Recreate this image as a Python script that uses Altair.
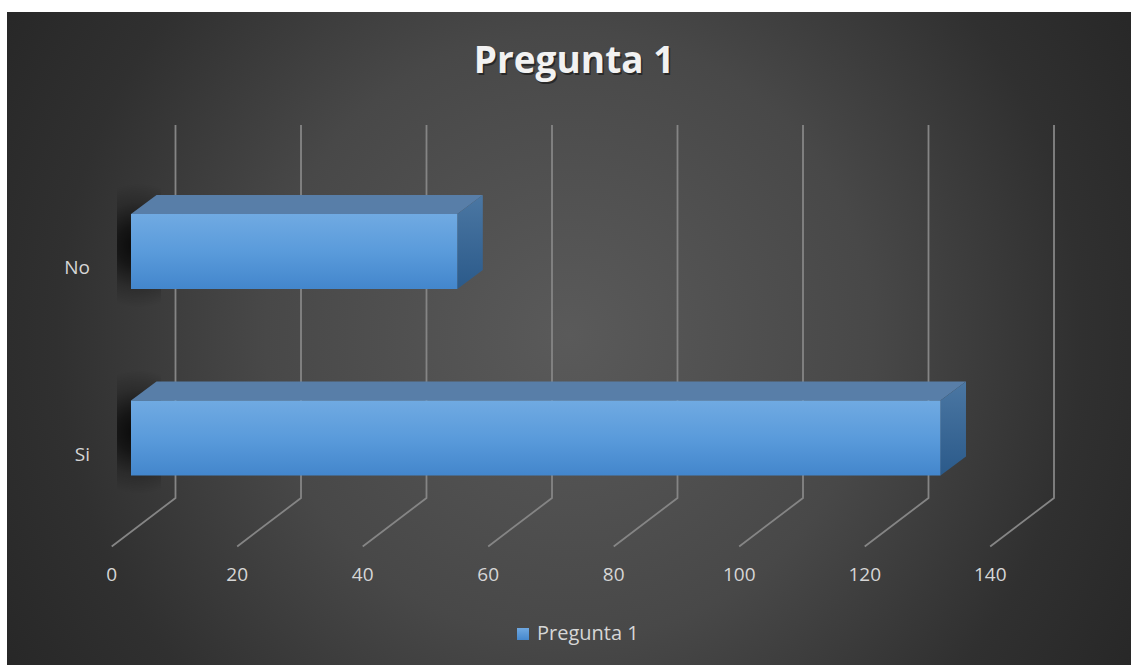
import altair as alt
import pandas as pd

# ---- data -------------------------------------------------------------
categories = ["Si", "No"]
values = [129, 52]
tick_values = [0, 20, 40, 60, 80, 100, 120, 140]
series_name = "Pregunta 1"
title_text = "Pregunta 1"

# ---- layout constants (plot area = dark panel) ------------------------
W, H = 1124, 653
PX = 6.275     # pixels per value unit along x
PY = 186.5     # pixels between category rows
X0 = 124       # pixel column of value 0 on the bar front plane
Y0 = 426       # pixel row of the first category centre

def ux(px):    # horizontal pixel offset -> value units
    return px / PX

def uy(py):    # local pixel row -> row units (row axis points up)
    return (Y0 - py) / PY

xs = alt.Scale(domain=[-X0 / PX, (W - X0) / PX], nice=False, zero=False)
ys = alt.Scale(domain=[uy(H), uy(0)], nice=False, zero=False)

HALF = 37.5 / PY          # half thickness of a bar
DEPTH_X = ux(25.5)        # bar depth, horizontal
DEPTH_Y = 19 / PY         # bar depth, vertical (upwards)

rows = list(range(len(categories)))

bars = pd.DataFrame({
    "cat": categories,
    "value": values,
    "y1": [r - HALF for r in rows],
    "y2": [r + HALF for r in rows],
    "x1": [0.0] * len(rows),
})

top_face = pd.DataFrame(
    [dict(cat=c, y=r + HALF, xa=0.0, xb=v) for c, v, r in zip(categories, values, rows)]
    + [dict(cat=c, y=r + HALF + DEPTH_Y, xa=DEPTH_X, xb=v + DEPTH_X)
       for c, v, r in zip(categories, values, rows)]
)

side_face = pd.DataFrame(
    [dict(cat=c, x=v, ya=r - HALF, yb=r + HALF) for c, v, r in zip(categories, values, rows)]
    + [dict(cat=c, x=v + DEPTH_X, ya=r - HALF + DEPTH_Y, yb=r + HALF + DEPTH_Y)
       for c, v, r in zip(categories, values, rows)]
)

# soft shadow cast behind the left end of each bar
shadows = pd.DataFrame({
    "cat": categories,
    "xa": [ux(-14)] * len(rows),
    "xb": [ux(30)] * len(rows),
    "ya": [r - 56 / PY for r in rows],
    "yb": [r + 68 / PY for r in rows],
})

# gridlines: floor diagonal then back-wall vertical
BACK = ux(44.5)
FRONT = ux(-19.3)
grid_rows = []
for t in tick_values:
    grid_rows += [
        dict(tick=t, ord=0, x=t + FRONT, y=uy(534.5)),
        dict(tick=t, ord=1, x=t + BACK, y=uy(486)),
        dict(tick=t, ord=2, x=t + BACK, y=uy(113)),
    ]
grid = pd.DataFrame(grid_rows)

tick_labels = pd.DataFrame({
    "x": [t + FRONT for t in tick_values],
    "y": [uy(563)] * len(tick_values),
    "label": [str(t) for t in tick_values],
})

cat_labels = pd.DataFrame({
    "x": [ux(-41)] * len(rows),
    "y": [r - 16.5 / PY for r in rows],
    "label": categories,
})

one = pd.DataFrame({"k": [0]})

# ---- styles -----------------------------------------------------------
bg_fill = alt.RadialGradient(
    gradient="radial", x1=0.5, y1=0.5, x2=0.5, y2=0.5, r1=0, r2=0.6,
    stops=[
        alt.GradientStop(offset=0, color="#5a5a5a"),
        alt.GradientStop(offset=0.45, color="#484848"),
        alt.GradientStop(offset=0.76, color="#303030"),
        alt.GradientStop(offset=1, color="#262626"),
    ],
)
front_fill = alt.LinearGradient(
    gradient="linear", x1=0, y1=0, x2=0, y2=1,
    stops=[
        alt.GradientStop(offset=0, color="#70aae2"),
        alt.GradientStop(offset=0.5, color="#5a9bdb"),
        alt.GradientStop(offset=1, color="#4386cc"),
    ],
)
side_fill = alt.LinearGradient(
    gradient="linear", x1=0, y1=0, x2=0, y2=1,
    stops=[
        alt.GradientStop(offset=0, color="#4b77a3"),
        alt.GradientStop(offset=1, color="#2b5a8a"),
    ],
)
shadow_fill = alt.RadialGradient(
    gradient="radial", x1=0.5, y1=0.5, x2=0.5, y2=0.5, r1=0, r2=0.5,
    stops=[
        alt.GradientStop(offset=0, color="rgba(0,0,0,0.85)"),
        alt.GradientStop(offset=0.35, color="rgba(0,0,0,0.6)"),
        alt.GradientStop(offset=0.7, color="rgba(0,0,0,0.2)"),
        alt.GradientStop(offset=1, color="rgba(0,0,0,0)"),
    ],
)
legend_fill = alt.LinearGradient(
    gradient="linear", x1=0, y1=0, x2=0, y2=1,
    stops=[
        alt.GradientStop(offset=0, color="#6fa8e0"),
        alt.GradientStop(offset=1, color="#4588cd"),
    ],
)

# ---- layers -----------------------------------------------------------
background = alt.Chart(one).mark_rect(color=bg_fill, clip=True).encode(
    x=alt.value(0), x2=alt.value(W),
    y=alt.value(323 - W / 2), y2=alt.value(323 + W / 2),
)

gridlines = alt.Chart(grid).mark_line(color="#858585", strokeWidth=1.8).encode(
    x=alt.X("x:Q", scale=xs, axis=None),
    y=alt.Y("y:Q", scale=ys, axis=None),
    detail="tick:N",
    order="ord:Q",
)

shadow = alt.Chart(shadows).mark_rect(color=shadow_fill).encode(
    x=alt.X("xa:Q", scale=xs, axis=None), x2="xb",
    y=alt.Y("ya:Q", scale=ys, axis=None), y2="yb",
)

top = alt.Chart(top_face).mark_area(orient="horizontal", color="#587ea8").encode(
    y=alt.Y("y:Q", scale=ys, axis=None),
    x=alt.X("xa:Q", scale=xs, axis=None), x2="xb",
    detail="cat:N",
)

side = alt.Chart(side_face).mark_area(orient="vertical", color=side_fill).encode(
    x=alt.X("x:Q", scale=xs, axis=None),
    y=alt.Y("ya:Q", scale=ys, axis=None), y2="yb",
    detail="cat:N",
)

front = alt.Chart(bars).mark_rect(color=front_fill).encode(
    x=alt.X("x1:Q", scale=xs, axis=None), x2="value",
    y=alt.Y("y1:Q", scale=ys, axis=None), y2="y2",
)

ticks_text = alt.Chart(tick_labels).mark_text(
    font="Open Sans", fontSize=19, color="#d6d6d6", align="center", baseline="middle"
).encode(
    x=alt.X("x:Q", scale=xs, axis=None),
    y=alt.Y("y:Q", scale=ys, axis=None),
    text="label:N",
)

cats_text = alt.Chart(cat_labels).mark_text(
    font="Open Sans", fontSize=19, color="#d6d6d6", align="right", baseline="middle"
).encode(
    x=alt.X("x:Q", scale=xs, axis=None),
    y=alt.Y("y:Q", scale=ys, axis=None),
    text="label:N",
)

title_shadow = alt.Chart(one).mark_text(
    text=title_text, font="Open Sans", fontWeight="bold", fontSize=37,
    color="#000000", opacity=0.45, align="center", baseline="alphabetic",
).encode(x=alt.value(567 + 1.5), y=alt.value(61 + 2))

title = alt.Chart(one).mark_text(
    text=title_text, font="Open Sans", fontWeight="bold", fontSize=37,
    color="#f2f2f2", align="center", baseline="alphabetic",
).encode(x=alt.value(567), y=alt.value(61))

legend_box = alt.Chart(one).mark_rect(color=legend_fill).encode(
    x=alt.value(510), x2=alt.value(522), y=alt.value(616), y2=alt.value(628),
)

legend_text = alt.Chart(one).mark_text(
    text=series_name, font="Open Sans", fontSize=20, color="#d6d6d6",
    align="left", baseline="middle",
).encode(x=alt.value(530), y=alt.value(622))

chart = alt.layer(
    background, gridlines, shadow, top, side, front,
    ticks_text, cats_text, title_shadow, title, legend_box, legend_text,
).properties(
    width=W, height=H,
    autosize=alt.AutoSizeParams(type="none"),
    padding={"left": 7, "top": 12, "right": 0, "bottom": 0},
    background="white",
).configure_view(stroke=None)

chart.save("out.html", embed_options={"renderer": "svg", "actions": False})
